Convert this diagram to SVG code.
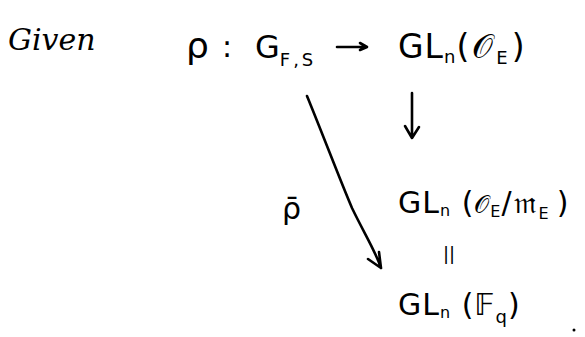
<svg xmlns="http://www.w3.org/2000/svg" width="585" height="337" viewBox="0 0 585 337">
<style>
.t{font-family:"DejaVu Sans","Liberation Sans",sans-serif;fill:#000;}
.h{font-family:"DejaVu Serif","Liberation Serif",serif;font-style:italic;fill:#000;}
.c{stroke:#000;stroke-width:2.6;fill:none;stroke-linecap:round;stroke-linejoin:round;}
</style>
<rect width="585" height="337" fill="#fff"/>
<g id="given"><text class="h" x="8" y="50" font-size="30">Given</text></g>
<g id="rho"><text class="t" x="186" y="58" font-size="36">ρ</text><text class="t" x="222" y="57" font-size="30">:</text></g>
<g id="GF"><text class="t" x="255" y="58" font-size="32">G<tspan font-size="18" dy="8" letter-spacing="3">F,S</tspan></text></g>
<g id="GLO"><text class="t" x="398" y="58" font-size="33" letter-spacing="1">GL<tspan font-size="18" dy="5">n</tspan><tspan dy="-5" letter-spacing="3">(𝒪</tspan><tspan font-size="18" dy="6" letter-spacing="4">E</tspan><tspan dy="-6">)</tspan></text></g>
<g id="GLOm"><text class="t" x="398" y="213" font-size="30" letter-spacing="1">GL<tspan font-size="16" dy="3">n</tspan><tspan dy="-3"> (</tspan><tspan font-size="24">𝒪</tspan><tspan font-size="16" dy="4">E</tspan><tspan dy="-4" letter-spacing="2">/𝔪</tspan><tspan font-size="16" dy="6" letter-spacing="8">E</tspan><tspan dy="-6">)</tspan></text></g>
<g id="eq"><text class="t" x="443" y="260" font-size="18">||</text></g>
<g id="GLF"><text class="t" x="398" y="315" font-size="30" letter-spacing="1">GL<tspan font-size="16" dy="3">n</tspan><tspan dy="-3"> (𝔽</tspan><tspan font-size="18" dy="8">q</tspan><tspan dy="-8">)</tspan></text></g>
<g id="rhobar"><text class="t" x="282" y="219" font-size="30">ρ̄</text></g>
<g id="dot"><circle cx="574" cy="330" r="1.5" fill="#000"/></g>
<g id="connectors">
<path class="c" d="M337 47 L366 47 M360 43 L367 47 L360 50"/>
<path class="c" d="M412 93 L412 137 M405 126 L412 138 L419 127"/>
<path class="c" d="M307 96 C325 140 340 180 352 208 C365 235 375 250 381 268 M368 259 L381 268 L379 252"/>
</g>
</svg>
